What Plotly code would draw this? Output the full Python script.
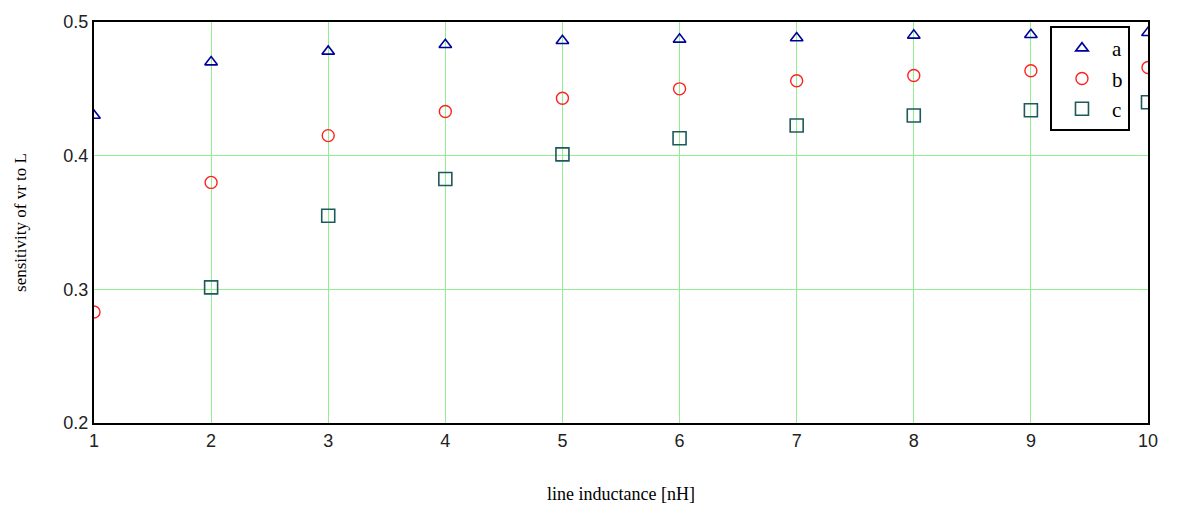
import plotly.graph_objects as go

x_vals = [1, 2, 3, 4, 5, 6, 7, 8, 9, 10]
series_a = [0.430, 0.470, 0.478, 0.483, 0.486, 0.487, 0.488, 0.490, 0.4905, 0.492]
series_b = [0.283, 0.380, 0.415, 0.433, 0.443, 0.450, 0.456, 0.460, 0.4635, 0.466]
x_c = [2, 3, 4, 5, 6, 7, 8, 9, 10]
series_c = [0.3015, 0.355, 0.3825, 0.401, 0.413, 0.4226, 0.430, 0.434, 0.440]
x_ticks = [1, 2, 3, 4, 5, 6, 7, 8, 9, 10]
y_ticks = [0.2, 0.3, 0.4, 0.5]

fig = go.Figure()
fig.add_trace(go.Scatter(x=x_vals, y=series_a, mode="markers", name="a",
                         marker=dict(symbol="triangle-up-open", size=11, color="#00009c",
                                     line=dict(width=1.6, color="#00009c"))))
fig.add_trace(go.Scatter(x=x_vals, y=series_b, mode="markers", name="b",
                         marker=dict(symbol="circle-open", size=12, color="#ff2020",
                                     line=dict(width=1.4, color="#ff2020"))))
fig.add_trace(go.Scatter(x=x_c, y=series_c, mode="markers", name="c",
                         marker=dict(symbol="square-open", size=13, color="#1e5a5a",
                                     line=dict(width=1.6, color="#1e5a5a"))))

fig.update_layout(
    width=1178, height=513,
    margin=dict(l=94, r=30, t=14, b=87),
    paper_bgcolor="white", plot_bgcolor="white",
    font=dict(family="Liberation Serif", size=16, color="black"),
    legend=dict(x=0.907, y=0.99, xanchor="left", yanchor="top",
                bordercolor="black", borderwidth=2, bgcolor="white",
                itemwidth=50, tracegroupgap=0,
                font=dict(family="Liberation Serif", size=21)),
    xaxis=dict(range=[1, 10], tickvals=x_ticks, showgrid=True, gridcolor="#90f090", gridwidth=1.3,
               showline=True, linecolor="black", linewidth=2, mirror=True, ticks="",
               zeroline=False,
               tickfont=dict(family="Liberation Sans", size=18, color="#222"),
               title=dict(text="line inductance [nH]", font=dict(family="Liberation Serif", size=18),
                          standoff=38)),
    yaxis=dict(range=[0.2, 0.5], tickvals=y_ticks, tickformat=".1f", showgrid=True,
               gridcolor="#90f090", gridwidth=1.3,
               showline=True, linecolor="black", linewidth=2, mirror=True, ticks="",
               zeroline=False,
               tickfont=dict(family="Liberation Sans", size=18, color="#222"),
               title=dict(text="sensitivity of vr to L", font=dict(family="Liberation Serif", size=17),
                          standoff=32)),
)

fig.write_html("out.html")
